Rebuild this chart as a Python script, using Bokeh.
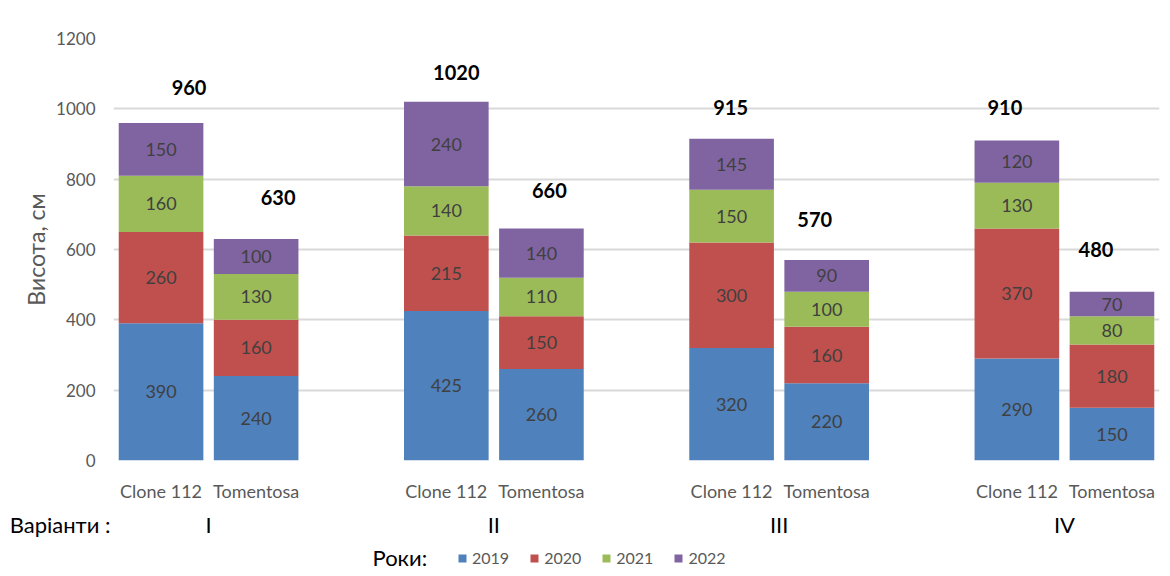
from bokeh.plotting import figure
from bokeh.layouts import column
from bokeh.models import (ColumnDataSource, FixedTicker, LinearAxis, Label, Legend, LegendItem, Range1d)
from bokeh.embed import file_html
from bokeh.resources import INLINE
from bokeh.core.properties import value

# ---------------- data ----------------
varieties = ["Clone 112", "Tomentosa"]
variants = ["I", "II", "III", "IV"]
years = ["2019", "2020", "2021", "2022"]
v2019 = [390, 240, 425, 260, 320, 220, 290, 150]
v2020 = [260, 160, 215, 150, 300, 160, 370, 180]
v2021 = [160, 130, 140, 110, 150, 100, 130, 80]
v2022 = [150, 100, 240, 140, 145, 90, 120, 70]
totals = [960, 630, 1020, 660, 915, 570, 910, 480]
y_ticks = [0, 200, 400, 600, 800, 1000, 1200]

# label placement (pixels) for the total labels, as in the original
tot_dx = [28, 22, 10, 8, -1, -12, -12, -16]
tot_dy = [35, 41, 29, 38, 31, 41, 33, 42]

colors = ["#4F81BD", "#C0504D", "#9BBB59", "#8064A2"]
FONT = "Lato"
GRAY = "#595959"

W = 1170
BORDER_L, BORDER_R = 113, 11
TOP_H = 505
ROW_VARIANTS, ROW_LEGEND = 0.73, 0.27   # rows of the bottom strip (fraction of its height)

# slot positions: Clone, Tomentosa, gap, ...
xs = []
for g in range(len(variants)):
    for k in range(len(varieties)):
        xs.append(g * 3 + k)
group_centers = [g * 3 + 0.5 for g in range(len(variants))]
xr = Range1d(-0.5, 10.5)

src = ColumnDataSource(dict(x=xs, y2019=v2019, y2020=v2020, y2021=v2021, y2022=v2022))
stack_cols = ["y2019", "y2020", "y2021", "y2022"]

p = figure(width=W, height=TOP_H, output_backend="svg", toolbar_location=None,
           x_range=xr, y_range=Range1d(0, 1200),
           min_border_left=BORDER_L, min_border_right=BORDER_R, min_border_top=38,
           min_border_bottom=45, x_axis_location=None)
p.outline_line_color = None
p.background_fill_color = "white"
p.border_fill_color = "white"

rs = p.vbar_stack(stack_cols, x="x", width=0.89, source=src, color=colors, line_color=None)

# segment labels
lx, ly, lt = [], [], []
series = [v2019, v2020, v2021, v2022]
for i, x in enumerate(xs):
    base = 0
    for s in series:
        lx.append(x)
        ly.append(base + s[i] / 2)
        lt.append(str(s[i]))
        base += s[i]
p.text(x="x", y="y", text="t", source=ColumnDataSource(dict(x=lx, y=ly, t=lt)),
       text_align="center", text_baseline="middle", text_color="#404040",
       text_font=value(FONT), text_font_size="18px")

# totals
p.text(x="x", y="y", text="t", x_offset="dx", y_offset="dy",
       source=ColumnDataSource(dict(x=xs, y=totals, t=[str(t) for t in totals],
                                    dx=tot_dx, dy=[-d for d in tot_dy])),
       text_align="center", text_baseline="middle", text_color="black",
       text_font=value(FONT), text_font_size="20px", text_font_style="bold")

# grid
p.xgrid.visible = False
p.ygrid.ticker = FixedTicker(ticks=y_ticks)
p.ygrid.grid_line_color = "#D9D9D9"
p.ygrid.grid_line_width = 2

# y axis
ya = p.yaxis[0]
ya.ticker = FixedTicker(ticks=y_ticks)
ya.axis_line_color = None
ya.major_tick_line_color = None
ya.minor_tick_line_color = None
ya.major_tick_out = 0
ya.major_label_standoff = 18
ya.major_label_text_font = FONT
ya.major_label_text_font_size = "17px"
ya.major_label_text_color = GRAY
ya.axis_label = "Висота, см"
ya.axis_label_text_font = FONT
ya.axis_label_text_font_size = "23px"
ya.axis_label_text_font_style = "normal"
ya.axis_label_text_color = GRAY
ya.axis_label_standoff = 3

# x axis: varieties
xa = LinearAxis(ticker=FixedTicker(ticks=xs),
                major_label_overrides={x: varieties[i % 2] for i, x in enumerate(xs)})
xa.axis_line_color = None
xa.major_tick_line_color = None
xa.minor_tick_line_color = None
xa.major_tick_out = 0
xa.major_label_standoff = 19
xa.major_label_text_font = FONT
xa.major_label_text_font_size = "18px"
xa.major_label_text_color = GRAY
p.add_layout(xa, "below")

# ---------------- bottom strip: variants row + legend ----------------
H2 = 576 - TOP_H
q = figure(width=W, height=H2, output_backend="svg", toolbar_location=None,
           x_range=xr, y_range=Range1d(0, 1),
           min_border_left=BORDER_L, min_border_right=BORDER_R, min_border_top=0,
           min_border_bottom=0, x_axis_location=None)
q.grid.visible = False
q.outline_line_color = None
q.background_fill_color = "white"
q.border_fill_color = "white"

qa = q.yaxis[0]
qa.ticker = FixedTicker(ticks=[ROW_VARIANTS])
qa.major_label_overrides = {ROW_VARIANTS: "Варіанти :"}
qa.axis_line_color = None
qa.major_tick_line_color = None
qa.minor_tick_line_color = None
qa.major_tick_out = 0
qa.major_label_standoff = 3
qa.major_label_text_font = FONT
qa.major_label_text_font_size = "22px"
qa.major_label_text_color = "black"

q.text(x=group_centers, y=[ROW_VARIANTS] * len(group_centers), text=variants,
       text_align="center", text_baseline="middle", text_color="black",
       text_font=value(FONT), text_font_size="22px")

q.add_layout(Label(x=259, y=ROW_LEGEND, x_units="screen", y_units="data", text="Роки:",
                   text_font=FONT, text_font_size="22px", text_color="black",
                   text_baseline="middle", text_align="left"))

# legend keys: the same stacked series, kept hidden in this strip
keys = q.vbar_stack(stack_cols, x="x", width=0.89, source=src, color=colors, line_color=None)
for k in keys:
    k.visible = False
legend = Legend(items=[LegendItem(label=years[i], renderers=[keys[i]]) for i in range(4)],
                orientation="horizontal", location=(344, 9),
                glyph_width=10, glyph_height=10, label_standoff=5, spacing=20,
                padding=0, margin=0, border_line_color=None, background_fill_alpha=0,
                inactive_fill_alpha=0,
                label_text_font=FONT, label_text_font_size="16px", label_text_color=GRAY)
q.add_layout(legend, "center")

open("out.html", "w").write(file_html(column(p, q, spacing=0), INLINE))
